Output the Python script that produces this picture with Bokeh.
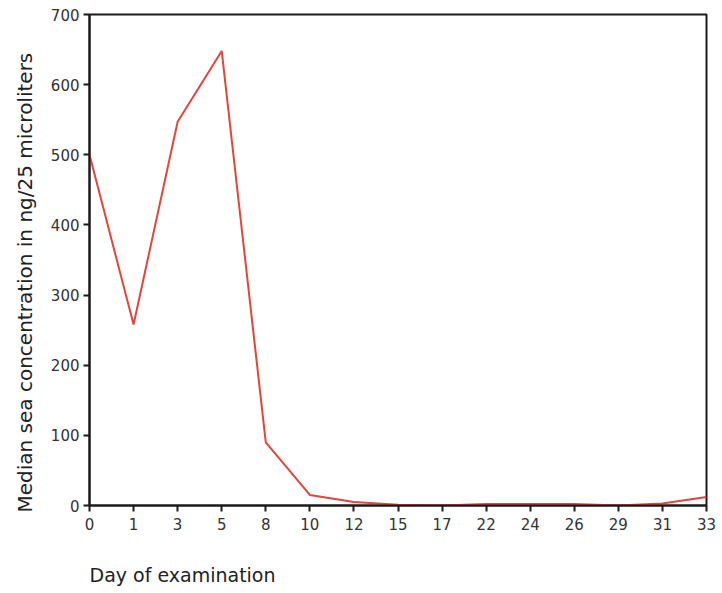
from bokeh.plotting import figure
from bokeh.models import Range1d, FixedTicker, Title
from bokeh.embed import file_html
from bokeh.resources import INLINE

days = ["0", "1", "3", "5", "8", "10", "12", "15", "17", "22", "24", "26", "29", "31", "33"]
median_conc = [500, 258, 547, 648, 90, 15, 5, 1, 0, 2, 2, 2, 0, 3, 12]
y_ticks = [0, 100, 200, 300, 400, 500, 600, 700]
x_title = "Day of examination"
y_title = "Median sea concentration in ng/25 microliters"

x_pos = list(range(len(days)))

FONT = "DejaVu Sans"

p = figure(width=722, height=593, output_backend="svg", toolbar_location=None,
           x_range=Range1d(0, len(days) - 1), y_range=Range1d(0, 700),
           min_border_left=88, min_border_right=16, min_border_top=14, min_border_bottom=88)

p.line(x_pos, median_conc, line_color="#e5443a", line_width=2)

p.xgrid.visible = False
p.ygrid.visible = False
p.outline_line_color = "#1a1a1a"
p.outline_line_width = 2
p.background_fill_color = "white"
p.border_fill_color = "white"

p.xaxis.ticker = FixedTicker(ticks=x_pos)
p.xaxis.major_label_overrides = {i: d for i, d in enumerate(days)}
p.yaxis.ticker = FixedTicker(ticks=y_ticks)

for ax in (p.xaxis[0], p.yaxis[0]):
    ax.axis_line_color = "#1a1a1a"
    ax.axis_line_width = 2
    ax.major_tick_line_color = "#1a1a1a"
    ax.major_tick_line_width = 2
    ax.major_tick_out = 6
    ax.major_tick_in = 0
    ax.minor_tick_out = 0
    ax.minor_tick_in = 0
    ax.major_label_text_font = FONT
    ax.major_label_text_font_size = "15px"
    ax.major_label_text_color = "#333333"

p.xaxis.major_label_standoff = 6
p.yaxis.major_label_standoff = 4

p.add_layout(Title(text=y_title, align="left", offset=-7,
                   text_font=FONT, text_font_size="20px", text_font_style="normal",
                   text_color="#222222", standoff=21), "left")
p.add_layout(Title(text="\n" + x_title, align="left", text_font=FONT,
                   text_font_size="19px", text_font_style="normal",
                   text_color="#222222", standoff=14), "below")

open("out.html", "w").write(file_html(p, INLINE))
